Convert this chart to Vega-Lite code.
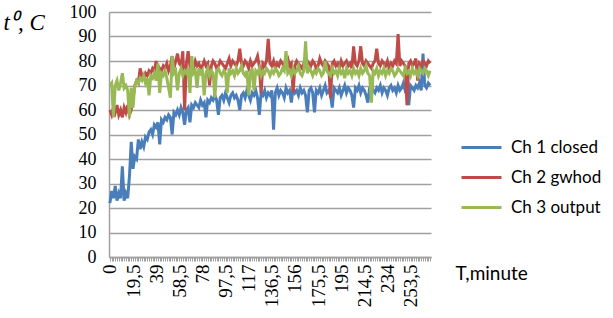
{
  "$schema": "https://vega.github.io/schema/vega-lite/v6.json",
  "autosize": "none",
  "width": 322,
  "height": 245,
  "padding": {"left": 109, "top": 12, "right": 182, "bottom": 61},
  "background": "white",
  "config": {"view": {"stroke": null}, "font": "Lato"},
  "data": {"values": [
{"t":0,"a":22,"b":60,"c":70},{"t":1.5,"a":27,"b":58,"c":71},{"t":3,"a":24,"b":61,"c":57},{"t":4.5,"a":29,"b":59,"c":70},{"t":6,"a":23,"b":62,"c":72},{"t":7.5,"a":26,"b":58,"c":68},{"t":9,"a":24,"b":60,"c":71},{"t":10.5,"a":37,"b":57,"c":75},{"t":12,"a":23,"b":61,"c":69},{"t":13.5,"a":26,"b":59,"c":70},
{"t":15,"a":24,"b":62,"c":68},{"t":16.5,"a":33,"b":58,"c":57},{"t":18,"a":47,"b":60,"c":69},{"t":19.5,"a":36,"b":65,"c":61},{"t":21,"a":41,"b":70,"c":70},{"t":22.5,"a":40,"b":72,"c":72},{"t":24,"a":48,"b":71,"c":71},{"t":25.5,"a":44,"b":77,"c":73},{"t":27,"a":47,"b":74,"c":72},{"t":28.5,"a":45,"b":73,"c":74},
{"t":30,"a":49,"b":75,"c":71},{"t":31.5,"a":48,"b":74,"c":73},{"t":33,"a":51,"b":76,"c":66},{"t":34.5,"a":52,"b":75,"c":74},{"t":36,"a":50,"b":77,"c":73},{"t":37.5,"a":54,"b":76,"c":75},{"t":39,"a":53,"b":80,"c":72},{"t":40.5,"a":55,"b":75,"c":79},{"t":42,"a":46,"b":77,"c":67},{"t":43.5,"a":56,"b":76,"c":75},
{"t":45,"a":55,"b":78,"c":74},{"t":46.5,"a":57,"b":77,"c":76},{"t":48,"a":56,"b":79,"c":73},{"t":49.5,"a":58,"b":76,"c":69},{"t":51,"a":57,"b":78,"c":65},{"t":52.5,"a":50,"b":82,"c":82},{"t":54,"a":59,"b":77,"c":75},{"t":55.5,"a":58,"b":80,"c":76},{"t":57,"a":60,"b":83,"c":68},{"t":58.5,"a":58,"b":79,"c":75},
{"t":60,"a":61,"b":78,"c":77},{"t":61.5,"a":59,"b":84,"c":74},{"t":63,"a":54,"b":60,"c":76},{"t":64.5,"a":60,"b":79,"c":75},{"t":66,"a":61,"b":84,"c":77},{"t":67.5,"a":55,"b":78,"c":67},{"t":69,"a":62,"b":79,"c":82},{"t":70.5,"a":61,"b":77,"c":75},{"t":72,"a":63,"b":80,"c":76},{"t":73.5,"a":62,"b":78,"c":69},
{"t":75,"a":61,"b":79,"c":77},{"t":76.5,"a":64,"b":77,"c":75},{"t":78,"a":62,"b":78,"c":76},{"t":79.5,"a":63,"b":80,"c":66},{"t":81,"a":57,"b":78,"c":75},{"t":82.5,"a":64,"b":79,"c":77},{"t":84,"a":63,"b":70,"c":74},{"t":85.5,"a":65,"b":78,"c":76},{"t":87,"a":64,"b":80,"c":75},{"t":88.5,"a":66,"b":79,"c":65},
{"t":90,"a":64,"b":77,"c":76},{"t":91.5,"a":58,"b":78,"c":77},{"t":93,"a":65,"b":80,"c":75},{"t":94.5,"a":66,"b":79,"c":74},{"t":96,"a":64,"b":78,"c":76},{"t":97.5,"a":67,"b":77,"c":75},{"t":99,"a":65,"b":79,"c":67},{"t":100.5,"a":63,"b":81,"c":77},{"t":102,"a":66,"b":78,"c":75},{"t":103.5,"a":67,"b":80,"c":76},
{"t":105,"a":65,"b":79,"c":74},{"t":106.5,"a":66,"b":78,"c":77},{"t":108,"a":64,"b":80,"c":75},{"t":109.5,"a":60,"b":85,"c":76},{"t":111,"a":66,"b":79,"c":78},{"t":112.5,"a":67,"b":78,"c":75},{"t":114,"a":65,"b":80,"c":74},{"t":115.5,"a":68,"b":79,"c":76},{"t":117,"a":66,"b":77,"c":66},{"t":118.5,"a":64,"b":80,"c":75},
{"t":120,"a":67,"b":78,"c":77},{"t":121.5,"a":66,"b":79,"c":68},{"t":123,"a":68,"b":80,"c":76},{"t":124.5,"a":65,"b":82,"c":75},{"t":126,"a":58,"b":78,"c":77},{"t":127.5,"a":67,"b":67,"c":74},{"t":129,"a":66,"b":79,"c":76},{"t":130.5,"a":68,"b":78,"c":75},{"t":132,"a":65,"b":80,"c":77},{"t":133.5,"a":67,"b":89,"c":76},
{"t":135,"a":66,"b":79,"c":74},{"t":136.5,"a":68,"b":78,"c":76},{"t":138,"a":52,"b":80,"c":75},{"t":139.5,"a":67,"b":77,"c":77},{"t":141,"a":69,"b":79,"c":76},{"t":142.5,"a":66,"b":78,"c":74},{"t":144,"a":68,"b":80,"c":75},{"t":145.5,"a":67,"b":79,"c":77},{"t":147,"a":65,"b":78,"c":76},{"t":148.5,"a":69,"b":80,"c":84},
{"t":150,"a":67,"b":81,"c":75},{"t":151.5,"a":68,"b":78,"c":76},{"t":153,"a":63,"b":79,"c":74},{"t":154.5,"a":69,"b":67,"c":77},{"t":156,"a":67,"b":78,"c":75},{"t":157.5,"a":68,"b":80,"c":76},{"t":159,"a":66,"b":79,"c":78},{"t":160.5,"a":69,"b":78,"c":75},{"t":162,"a":67,"b":77,"c":74},{"t":163.5,"a":68,"b":79,"c":76},
{"t":165,"a":66,"b":78,"c":88},{"t":166.5,"a":59,"b":80,"c":75},{"t":168,"a":68,"b":79,"c":77},{"t":169.5,"a":69,"b":78,"c":76},{"t":171,"a":67,"b":80,"c":74},{"t":172.5,"a":59,"b":79,"c":76},{"t":174,"a":68,"b":77,"c":75},{"t":175.5,"a":67,"b":78,"c":77},{"t":177,"a":69,"b":81,"c":76},{"t":178.5,"a":66,"b":79,"c":74},
{"t":180,"a":68,"b":78,"c":75},{"t":181.5,"a":70,"b":80,"c":80},{"t":183,"a":67,"b":79,"c":76},{"t":184.5,"a":68,"b":78,"c":75},{"t":186,"a":66,"b":65,"c":74},{"t":187.5,"a":61,"b":79,"c":77},{"t":189,"a":69,"b":80,"c":75},{"t":190.5,"a":68,"b":78,"c":76},{"t":192,"a":67,"b":79,"c":74},{"t":193.5,"a":69,"b":77,"c":77},
{"t":195,"a":66,"b":80,"c":75},{"t":196.5,"a":68,"b":78,"c":76},{"t":198,"a":70,"b":79,"c":73},{"t":199.5,"a":67,"b":80,"c":77},{"t":201,"a":69,"b":78,"c":75},{"t":202.5,"a":68,"b":79,"c":76},{"t":204,"a":66,"b":77,"c":74},{"t":205.5,"a":61,"b":86,"c":77},{"t":207,"a":69,"b":79,"c":75},{"t":208.5,"a":68,"b":78,"c":76},
{"t":210,"a":70,"b":80,"c":74},{"t":211.5,"a":67,"b":86,"c":77},{"t":213,"a":69,"b":79,"c":75},{"t":214.5,"a":68,"b":78,"c":76},{"t":216,"a":66,"b":80,"c":78},{"t":217.5,"a":63,"b":79,"c":75},{"t":219,"a":69,"b":78,"c":74},{"t":220.5,"a":70,"b":77,"c":63},{"t":222,"a":68,"b":79,"c":76},{"t":223.5,"a":67,"b":80,"c":75},
{"t":225,"a":69,"b":85,"c":77},{"t":226.5,"a":68,"b":79,"c":74},{"t":228,"a":70,"b":78,"c":76},{"t":229.5,"a":67,"b":80,"c":75},{"t":231,"a":69,"b":79,"c":77},{"t":232.5,"a":68,"b":78,"c":74},{"t":234,"a":66,"b":80,"c":76},{"t":235.5,"a":69,"b":77,"c":75},{"t":237,"a":70,"b":79,"c":77},{"t":238.5,"a":68,"b":78,"c":76},
{"t":240,"a":69,"b":80,"c":74},{"t":241.5,"a":67,"b":79,"c":75},{"t":243,"a":70,"b":91,"c":77},{"t":244.5,"a":68,"b":78,"c":76},{"t":246,"a":69,"b":80,"c":75},{"t":247.5,"a":71,"b":79,"c":74},{"t":249,"a":68,"b":78,"c":77},{"t":250.5,"a":69,"b":62,"c":75},{"t":252,"a":62,"b":79,"c":76},{"t":253.5,"a":70,"b":80,"c":74},
{"t":255,"a":69,"b":78,"c":77},{"t":256.5,"a":68,"b":79,"c":75},{"t":258,"a":70,"b":81,"c":76},{"t":259.5,"a":69,"b":72,"c":74},{"t":261,"a":71,"b":79,"c":77},{"t":262.5,"a":68,"b":78,"c":76},{"t":264,"a":83,"b":80,"c":75},{"t":265.5,"a":70,"b":79,"c":77},{"t":267,"a":69,"b":78,"c":76},{"t":268.5,"a":71,"b":80,"c":74},
{"t":270,"a":70,"b":79,"c":76}
  ]},
  "transform": [{"fold": ["a", "b", "c"], "as": ["series", "temp"]}],
  "mark": {"type": "line", "strokeWidth": 3, "strokeJoin": "miter", "interpolate": "linear"},
  "encoding": {
    "x": {
      "field": "t", "type": "quantitative",
      "scale": {"domain": [-0.75, 270.75], "nice": false, "zero": false},
      "axis": {
        "title": "T,minute",
        "titleFont": "Lato", "titleFontSize": 19, "titleFontWeight": "normal", "titleColor": "#000",
        "titleX": 346, "titleY": 16, "titleAlign": "left", "titleBaseline": "middle", "titleAngle": 0,
        "values": [0,1.5,3,4.5,6,7.5,9,10.5,12,13.5,15,16.5,18,19.5,21,22.5,24,25.5,27,28.5,30,31.5,33,34.5,36,37.5,39,40.5,42,43.5,45,46.5,48,49.5,51,52.5,54,55.5,57,58.5,60,61.5,63,64.5,66,67.5,69,70.5,72,73.5,75,76.5,78,79.5,81,82.5,84,85.5,87,88.5,90,91.5,93,94.5,96,97.5,99,100.5,102,103.5,105,106.5,108,109.5,111,112.5,114,115.5,117,118.5,120,121.5,123,124.5,126,127.5,129,130.5,132,133.5,135,136.5,138,139.5,141,142.5,144,145.5,147,148.5,150,151.5,153,154.5,156,157.5,159,160.5,162,163.5,165,166.5,168,169.5,171,172.5,174,175.5,177,178.5,180,181.5,183,184.5,186,187.5,189,190.5,192,193.5,195,196.5,198,199.5,201,202.5,204,205.5,207,208.5,210,211.5,213,214.5,216,217.5,219,220.5,222,223.5,225,226.5,228,229.5,231,232.5,234,235.5,237,238.5,240,241.5,243,244.5,246,247.5,249,250.5,252,253.5,255,256.5,258,259.5,261,262.5,264,265.5,267,268.5,270],
        "labelExpr": "datum.value % 19.5 == 0 ? replace(toString(datum.value), '.', ',') : ''",
        "labelAngle": 270, "labelAlign": "right", "labelBaseline": "middle",
        "labelFont": "Liberation Serif", "labelFontSize": 19, "labelColor": "#000",
        "labelOverlap": false, "labelFlush": false, "labelPadding": 3,
        "grid": false, "ticks": true, "tickSize": 4, "tickColor": "#a0a0a0", "tickWidth": 1,
        "domain": true, "domainColor": "#a0a0a0", "domainWidth": 1.5
      }
    },
    "y": {
      "field": "temp", "type": "quantitative",
      "scale": {"domain": [0, 100], "nice": false},
      "axis": {
        "title": "t⁰, C",
        "titleFont": "Liberation Serif", "titleFontStyle": "italic", "titleFontWeight": "normal", "titleFontSize": 23, "titleColor": "#000",
        "titleAngle": 0, "titleX": -106, "titleY": 10, "titleAlign": "left", "titleBaseline": "middle",
        "values": [0,10,20,30,40,50,60,70,80,90,100],
        "labelFont": "Liberation Serif", "labelFontSize": 18, "labelColor": "#000", "labelPadding": 13,
        "ticks": false, "grid": true, "gridColor": "#a0a0a0", "gridWidth": 1.5,
        "domain": true, "domainColor": "#a0a0a0", "domainWidth": 1.5
      }
    },
    "color": {
      "field": "series", "type": "nominal",
      "scale": {"domain": ["a", "b", "c"], "range": ["#4a7ebb", "#be4b48", "#98b954"]},
      "legend": {
        "title": null, "orient": "none", "legendX": 351, "legendY": 114,
        "symbolType": "stroke", "symbolSize": 1600, "symbolStrokeWidth": 3,
        "rowPadding": -7, "labelOffset": 8,
        "labelFont": "Lato", "labelFontSize": 17, "labelColor": "#000",
        "labelExpr": "{'a': 'Ch 1 closed', 'b': 'Ch 2 gwhod', 'c': 'Ch 3 output'}[datum.label]"
      }
    }
  }
}
